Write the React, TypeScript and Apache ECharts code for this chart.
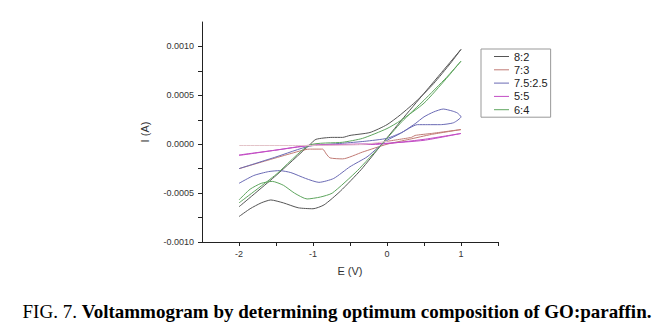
import { useEffect, useRef } from "react";
import * as echarts from "echarts";

// ---- Data (E in V, I in A), forward scan then reverse scan ----
const legendNames = ["8:2", "7:3", "7.5:2.5", "5:5", "6:4"];

const e82 = [-2, -1.85, -1.7, -1.57, -1.4, -1.2, -1.0, -0.85, -0.63, -0.35, -0.07, 0.2, 0.5, 0.8, 1.0,
  0.86, 0.63, 0.41, 0.18, 0, -0.23, -0.5, -0.6, -0.74, -0.96, -1.05, -1.5, -2];
const i82 = [-0.00074, -0.00066, -0.0006, -0.00057, -0.0006, -0.00065, -0.00066, -0.00062, -0.00048, -0.00026, 0, 0.00025, 0.00052, 0.00079, 0.00097,
  0.00083, 0.00062, 0.00045, 0.0003, 0.0002, 0.00012, 0.00009, 0.00007, 0.00007, 0.00005, -0.00001, -0.00032, -0.00064];

const e73 = [-2, -1.64, -1.32, -1.05, -0.87, -0.82, -0.77, -0.6, -0.33, 0, 0.3, 0.6, 1.0,
  0.6, 0.38, 0.33, 0];
const i73 = [-0.00025, -0.00017, -0.0001, -0.00005, -0.00005, -0.0001, -0.00014, -0.00015, -0.00008, 0.0, 0.00005, 0.0001, 0.00015,
  0.00011, 0.00009, 0.00007, 0.00003];
const e73tail = [0, -0.3, -0.7, -1.2, -2];
const i73tail = [0.00003, 0.0, -0.00001, -0.000013, -0.000013];

const e7525 = [-2, -1.8, -1.6, -1.45, -1.3, -1.1, -0.92, -0.72, -0.5, -0.27, -0.13, 0, 0.18, 0.38, 0.5, 0.63, 0.76, 0.88, 0.95, 1.0,
  0.9, 0.72, 0.55, 0.41, 0.2, 0, -0.3, -0.6, -1.05, -1.5, -2];
const i7525 = [-0.0004, -0.00032, -0.00028, -0.00027, -0.00029, -0.00035, -0.00039, -0.00035, -0.00023, -0.00013, -0.00004, 0.00004, 0.00011, 0.00021, 0.00028, 0.00033, 0.00036, 0.00034, 0.00032, 0.00028,
  0.00022, 0.0002, 0.0002, 0.0002, 0.00012, 0.00006, 0.00003, 0.00001, -0.00002, -0.00013, -0.00025];

const e55 = [-2, -1.5, -1.05, -0.7, -0.1, 0.5, 1.0, 0.5, 0, -0.5, -1.05, -1.5, -2];
const i55 = [-0.000115, -0.00006, -0.00001, -0.000005, 0.0, 0.00005, 0.00011, 0.00004, 0.00001, 0.0, -0.000015, -0.00006, -0.00011];

const e64 = [-2, -1.85, -1.7, -1.55, -1.4, -1.25, -1.08, -0.9, -0.74, -0.4, -0.07, 0.2, 0.5, 0.8, 1.0,
  0.8, 0.5, 0.18, 0, -0.33, -0.6, -1.05, -1.5, -2];
const i64 = [-0.00057, -0.00046, -0.0004, -0.00038, -0.00042, -0.0005, -0.00056, -0.00054, -0.0005, -0.00027, 0, 0.00023, 0.00045, 0.00068, 0.00085,
  0.00067, 0.00042, 0.00024, 0.00016, 0.00006, 0.00002, -0.00001, -0.00031, -0.0006];

const yLabels = [-0.001, -0.0005, 0, 0.0005, 0.001];
const yTicks = [-0.001, -0.00075, -0.0005, -0.00025, 0, 0.00025, 0.0005, 0.00075, 0.001];
const xLabels = [-2, -1, 0, 1];
const xTicks = [-2, -1.5, -1, -0.5, 0, 0.5, 1, 1.5];

const caption = "Voltammogram by determining optimum composition of GO:paraffin.";

const pairs = (e: number[], i: number[]) => e.map((v, k) => [v, i[k]]);

export default function App() {
  const ref = useRef<HTMLDivElement>(null);
  useEffect(() => {
    const chart = echarts.init(ref.current!, null, { renderer: "svg" });
    const axisText = { fontFamily: "Liberation Sans", fontSize: 9, color: "#333" };
    const mk = (name: string, e: number[], i: number[], color: string) => ({
      name,
      type: "line",
      data: pairs(e, i),
      symbol: "none",
      smooth: 0.2,
      lineStyle: { color, width: 1 },
      itemStyle: { color },
    });
    chart.setOption({
      animation: false,
      backgroundColor: "#fff",
      grid: { left: 202, top: 22, width: 296, height: 220 },
      xAxis: {
        type: "value", min: -2.5, max: 1.5,
        name: "E (V)", nameLocation: "middle", nameGap: 23,
        nameTextStyle: { fontFamily: "Liberation Sans", fontSize: 11, color: "#333" },
        axisLine: { show: true, onZero: false, lineStyle: { color: "#222", width: 1 } },
        axisTick: { show: true, length: 4, customValues: xTicks, lineStyle: { color: "#222" } },
        axisLabel: { ...axisText, margin: 7, customValues: xLabels, formatter: (v: number) => String(v) },
        splitLine: { show: false },
      },
      yAxis: {
        type: "value", min: -0.001, max: 0.00125,
        name: "I (A)", nameLocation: "middle", nameGap: 52, nameRotate: 90,
        nameTextStyle: { fontFamily: "Liberation Sans", fontSize: 11, color: "#333" },
        axisLine: { show: true, onZero: false, lineStyle: { color: "#222", width: 1 } },
        axisTick: { show: true, length: 4, customValues: yTicks, lineStyle: { color: "#222" } },
        axisLabel: { ...axisText, margin: 8, customValues: yLabels, formatter: (v: number) => v.toFixed(4) },
        splitLine: { show: false },
      },
      legend: {
        data: legendNames,
        orient: "vertical",
        left: 481, top: 49,
        icon: "rect",
        itemWidth: 15, itemHeight: 1, itemGap: 2.3,
        padding: [2, 3, 2, 13],
        borderColor: "#999", borderWidth: 1,
        backgroundColor: "#fff",
        textStyle: { fontFamily: "Liberation Sans", fontSize: 11, color: "#222" },
      },
      series: [
        mk("8:2", e82, i82, "#555555"),
        mk("7:3", e73, i73, "#c07a74"),
        mk("7.5:2.5", e7525, i7525, "#6a6ab4"),
        mk("5:5", e55, i55, "#c24cc4"),
        mk("6:4", e64, i64, "#5ea55e"),
        mk("7:3", e73tail, i73tail, "#e3c3c8"),
      ],
      graphic: [
        {
          type: "text",
          x: 337, y: 311,
          style: {
            text: "{a|FIG. 7. }{b|" + caption + "}",
            align: "center",
            verticalAlign: "middle",
            rich: {
              a: { fontFamily: "Liberation Serif", fontSize: 19, fontWeight: "normal", fill: "#000" },
              b: { fontFamily: "Liberation Serif", fontSize: 19, fontWeight: "bold", fill: "#000" },
            },
          },
        },
      ],
    });
    return () => chart.dispose();
  }, []);
  return (
    <div
      ref={ref}
      style={{ position: "absolute", left: 0, top: 0, width: 664, height: 336, background: "#fff" }}
    />
  );
}
